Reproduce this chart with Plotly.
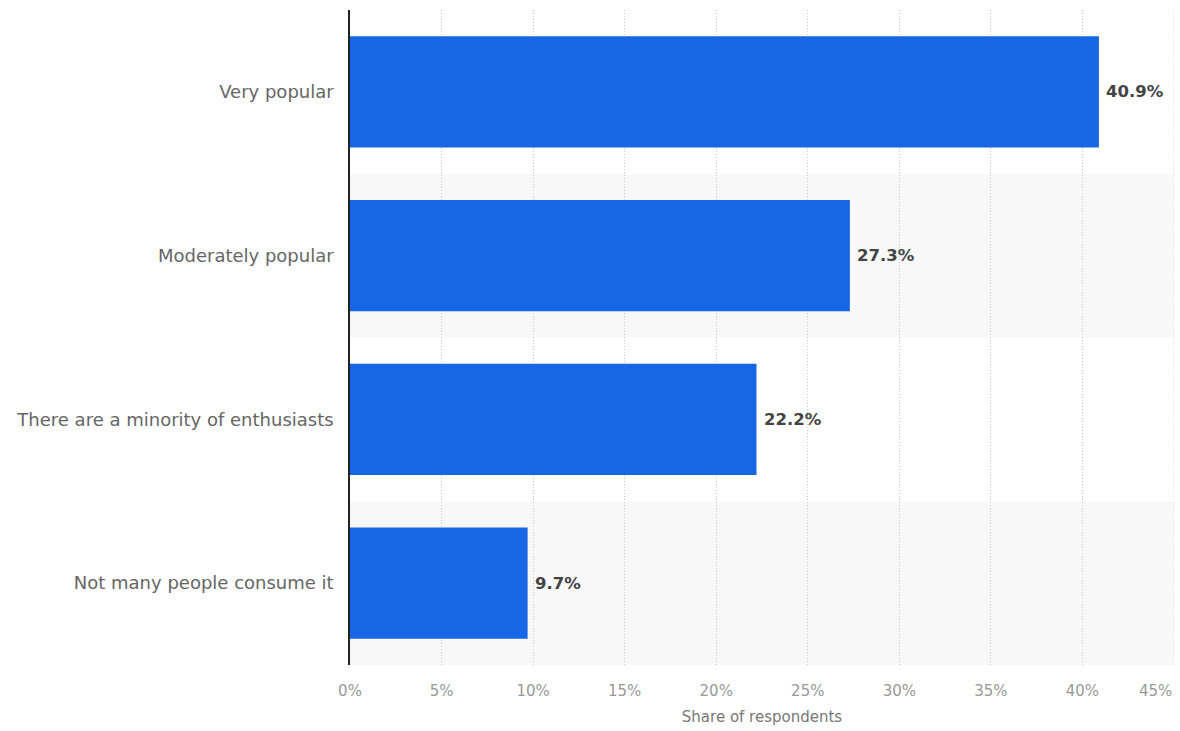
import plotly.graph_objects as go

categories = ["Very popular", "Moderately popular", "There are a minority of enthusiasts", "Not many people consume it"]
values = [40.9, 27.3, 22.2, 9.7]
tick_vals = [0, 5, 10, 15, 20, 25, 30, 35, 40, 45]
tick_text = [f"{v}%" for v in tick_vals]

fig = go.Figure()
fig.add_trace(go.Bar(
    y=categories, x=values, orientation="h",
    marker=dict(color="#1766e6", line=dict(width=0)),
    width=0.68,
    cliponaxis=False,
))

annotations = []
for c, v in zip(categories, values):
    annotations.append(dict(x=v, y=c, xref="x", yref="y", text=f"{v:.1f}%",
                            showarrow=False, xanchor="left", xshift=5,
                            font=dict(family="DejaVu Sans", size=16.5, color="#444444", weight="bold")))
# last tick label drawn inside the div (reference right-aligns it)
annotations.append(dict(x=tick_vals[-1], y=0, xref="x", yref="paper", text=tick_text[-1],
                        showarrow=False, xanchor="right", yanchor="top", yshift=-15,
                        font=dict(family="DejaVu Sans", size=15, color="#999999")))

shapes = []
for i in range(len(categories)):
    if i % 2 == 1:
        shapes.append(dict(type="rect", xref="paper", yref="y", x0=0, x1=1,
                           y0=i - 0.5, y1=i + 0.5, fillcolor="#f8f8f8",
                           line=dict(width=0), layer="below"))
fig.update_layout(
    width=1180, height=731,
    margin=dict(l=350, r=6, t=10, b=66),
    paper_bgcolor="white", plot_bgcolor="white",
    shapes=shapes, annotations=annotations,
    showlegend=False,
    font=dict(family="DejaVu Sans"),
    xaxis=dict(range=[0, 45], tickvals=tick_vals[:-1], ticktext=tick_text[:-1],
               showgrid=True, gridcolor="#c8c8c8", griddash="1px,2px", gridwidth=1,
               zeroline=False, showline=False,
               tickfont=dict(size=15, color="#999999"),
               title=dict(text="Share of respondents", font=dict(size=15, color="#777777"), standoff=12),
               ticks="", ticklabelstandoff=15, layer="below traces"),
    yaxis=dict(categoryorder="array", categoryarray=categories, autorange="reversed",
               range=[3.5, -0.5],
               showline=True, linecolor="#222222", linewidth=1.5,
               showgrid=False, zeroline=False, ticks="",
               tickfont=dict(size=18, color="#666666"), ticklabelstandoff=11),
)
# gridline at 45% (not among tickvals)
fig.add_shape(type="line", xref="x", yref="paper", x0=tick_vals[-1], x1=tick_vals[-1], y0=0, y1=1,
              line=dict(color="#c8c8c8", width=1, dash="1px,2px"), layer="below")
fig.write_html("out.html")
